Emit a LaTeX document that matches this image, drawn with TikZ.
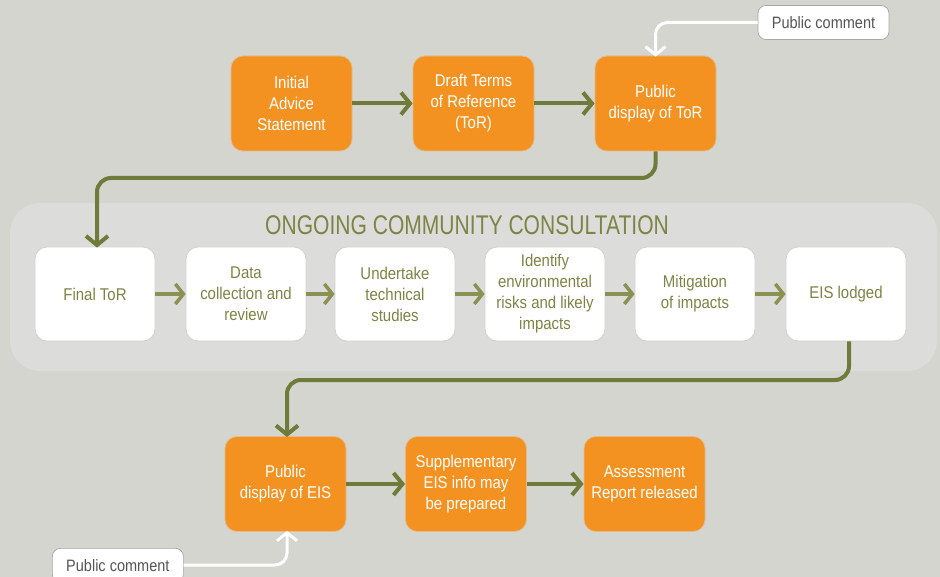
\documentclass[tikz,border=0pt]{standalone}
\usepackage{fontspec}
\setmainfont{Liberation Sans}[FakeStretch=0.88]
\newfontfamily\titlefont{Liberation Sans}[FakeStretch=0.78]
\usetikzlibrary{arrows.meta}
\definecolor{bg}{HTML}{D4D5CE}
\definecolor{panel}{HTML}{DCDCDA}
\definecolor{orng}{HTML}{F39221}
\definecolor{olive}{HTML}{6E7B3A}
\definecolor{lolive}{HTML}{8A9152}
\definecolor{txtol}{HTML}{7D8445}
\definecolor{gtxt}{HTML}{555555}
\tikzset{
  obox/.style={draw=orng!70!gray!60, line width=0.8pt, fill=orng, rounded corners=12pt, minimum width=121pt, minimum height=95pt, text=white, align=center, font=\fontsize{17}{21}\selectfont, inner sep=2pt},
  wbox/.style={draw=black!18, line width=0.8pt, fill=white, rounded corners=12pt, minimum width=120pt, minimum height=94pt, text=txtol, align=center, font=\fontsize{17}{21}\selectfont, inner sep=2pt},
  cbox/.style={draw=black!35, line width=0.7pt, fill=white, rounded corners=8pt, minimum width=131pt, minimum height=34pt, text=gtxt, font=\fontsize{16.5}{19}\selectfont},
  darr/.style={draw=olive, line width=4pt, rounded corners=14pt, -{Straight Barb[length=9pt,width=22pt,line width=4pt]}},
  larr/.style={draw=lolive, line width=3.5pt, -{Straight Barb[length=8pt,width=20pt,line width=3.5pt]}},
  warr/.style={draw=white, line width=3pt, rounded corners=12pt, -{Straight Barb[length=8pt,width=20pt,line width=3pt]}},
}
\begin{document}
\begin{tikzpicture}[x=1pt,y=-1pt]
\fill[bg] (0,0) rectangle (940,577);
\useasboundingbox (0,0) rectangle (940,577);
\fill[panel, rounded corners=30pt] (10,203) rectangle (937,371);
\node[text=txtol, font=\titlefont\fontsize{27}{30}\selectfont] (title) at (467,225) {ONGOING COMMUNITY CONSULTATION};

% row 1
\node[obox] (ias) at (291.5,103.5) {Initial\\Advice\\Statement};
\node[obox] (dtr) at (473.5,103.5) {Draft Terms\\of Reference\\(ToR)};
\node[obox] (pdt) at (655.5,103.5) {Public\\display of ToR};
\node[cbox] (pc1) at (823.5,22.5) {Public comment};

% row 2
\node[wbox] (ftr) at (95,294) {Final ToR};
\node[wbox] (dcr) at (246,294) {Data\\collection and\\review};
\node[wbox] (uts) at (395,294) {Undertake\\technical\\studies};
\node[wbox] (ier) at (545,294) {Identify\\environmental\\risks and likely\\impacts};
\node[wbox] (moi) at (695,294) {Mitigation\\of impacts};
\node[wbox] (eis) at (846,294) {EIS lodged};

% row 3
\node[obox] (pde) at (285.5,484) {Public\\display of EIS};
\node[obox] (sup) at (466,484) {Supplementary\\EIS info may\\be prepared};
\node[obox] (arr) at (644.5,484) {Assessment\\Report released};
\node[cbox, anchor=north west] (pc2) at (52,548) {Public comment};

% connectors
\draw[darr] (ias) -- (dtr);
\draw[darr] (dtr) -- (pdt);
\draw[warr] (pc1.west) -| ([yshift=-1pt]pdt.north);
\draw[darr] (pdt.south) |- (97,178) -- ([yshift=-1pt]97,0 |- ftr.north);
\draw[larr] (ftr) -- (dcr);
\draw[larr] (dcr) -- (uts);
\draw[larr] (uts) -- (ier);
\draw[larr] (ier) -- (moi);
\draw[larr] (moi) -- (eis);
\draw[darr] (849,0 |- eis.south) |- (287,380) -- ([yshift=-1pt]287,0 |- pde.north);
\draw[darr] (pde) -- (sup);
\draw[darr] (sup) -- (arr);
\draw[warr] (pc2.east |- 0,565) -| ([yshift=1pt]287,0 |- pde.south);
\end{tikzpicture}
\end{document}
